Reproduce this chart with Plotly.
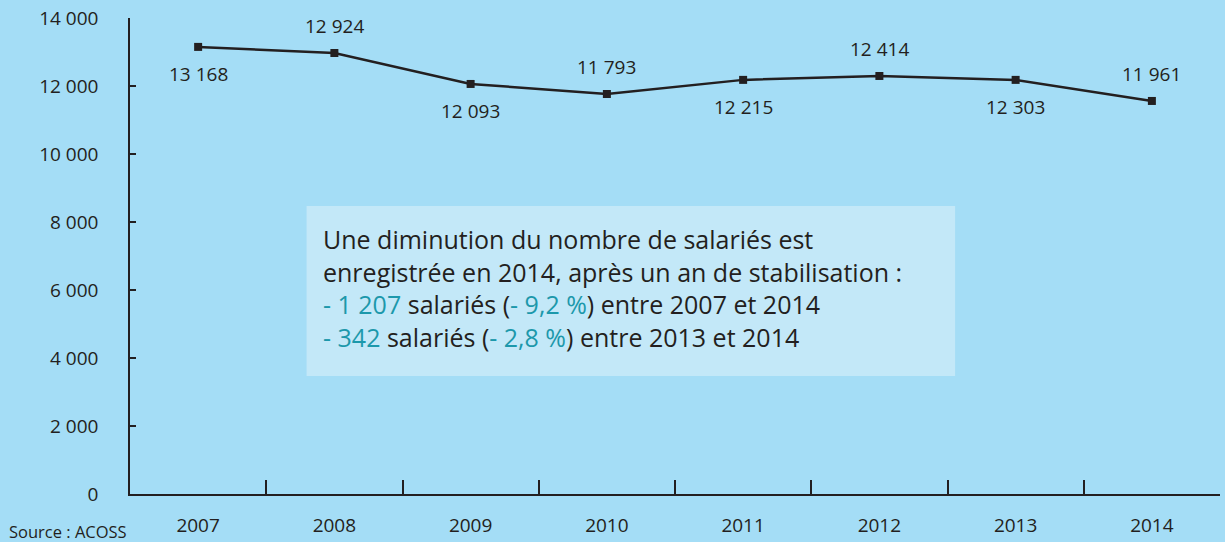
import plotly.graph_objects as go

years = ["2007", "2008", "2009", "2010", "2011", "2012", "2013", "2014"]
values = [13150, 12970, 12060, 11765, 12180, 12295, 12180, 11560]
value_labels = ["13 168", "12 924", "12 093", "11 793", "12 215", "12 414", "12 303", "11 961"]
label_side = ["below", "above", "below", "above", "below", "above", "below", "above"]
y_ticks = [0, 2000, 4000, 6000, 8000, 10000, 12000, 14000]

FONT = "Open Sans"
DARK = "#231f20"
BG = "#a4ddf6"
TEAL = "#1c98ab"

fig = go.Figure()
fig.add_trace(go.Scatter(
    x=years, y=values, mode="lines+markers",
    line=dict(color=DARK, width=2.5),
    marker=dict(symbol="square", size=8, color=DARK),
    hoverinfo="skip", showlegend=False,
))

for i, (y, t, s) in enumerate(zip(values, value_labels, label_side)):
    fig.add_annotation(x=i, y=y, text=t, showarrow=False,
                       yshift=27 if s == "above" else -27,
                       font=dict(family=FONT, size=19, color=DARK))

fig.add_shape(type="rect", xref="paper", yref="paper",
              x0=0.162, x1=0.757, y0=0.248, y1=0.605,
              fillcolor="#c3e8f8", line=dict(width=0), layer="below")

box_text = ("Une diminution du nombre de salariés est<br>"
            "enregistrée en 2014, après un an de stabilisation :<br>"
            f"<span style='color:{TEAL}'>- 1 207</span> salariés (<span style='color:{TEAL}'>- 9,2 %</span>) entre 2007 et 2014<br>"
            f"<span style='color:{TEAL}'>- 342</span> salariés (<span style='color:{TEAL}'>- 2,8 %</span>) entre 2013 et 2014")
fig.add_annotation(xref="paper", yref="paper", x=0.175, y=0.575,
                   xanchor="left", yanchor="top", align="left",
                   text=box_text, showarrow=False,
                   font=dict(family=FONT, size=25, color=DARK))

fig.add_annotation(xref="paper", yref="paper", x=-0.113, y=-0.078,
                   xanchor="left", yanchor="middle", text="Source : ACOSS",
                   showarrow=False, font=dict(family=FONT, size=16.5, color=DARK))

fig.update_layout(
    width=1225, height=542,
    margin=dict(l=130, r=5, t=18, b=48, autoexpand=False),
    paper_bgcolor=BG, plot_bgcolor=BG,
    separators=", ",
    font=dict(family=FONT, size=19, color=DARK),
    xaxis=dict(type="category", range=[-0.5, 7.5], tickson="boundaries",
               ticks="inside", ticklen=14, tickwidth=1.5, tickcolor=DARK,
               showline=True, linecolor=DARK, linewidth=1.5, automargin=False,
               showgrid=False, zeroline=False, fixedrange=True,
               tickfont=dict(family=FONT, size=19, color=DARK),
               ticklabelstandoff=13),
    yaxis=dict(range=[0, 14000], tickvals=y_ticks, tickformat=",d",
               ticks="inside", ticklen=6, tickwidth=1.5, tickcolor=DARK,
               showline=True, linecolor=DARK, linewidth=1.5, automargin=False,
               showgrid=False, zeroline=False, fixedrange=True,
               tickfont=dict(family=FONT, size=19, color=DARK),
               ticklabelstandoff=26),
)

fig.write_html("out.html", post_script="document.body.style.margin='0';",
               config={"displayModeBar": False})
